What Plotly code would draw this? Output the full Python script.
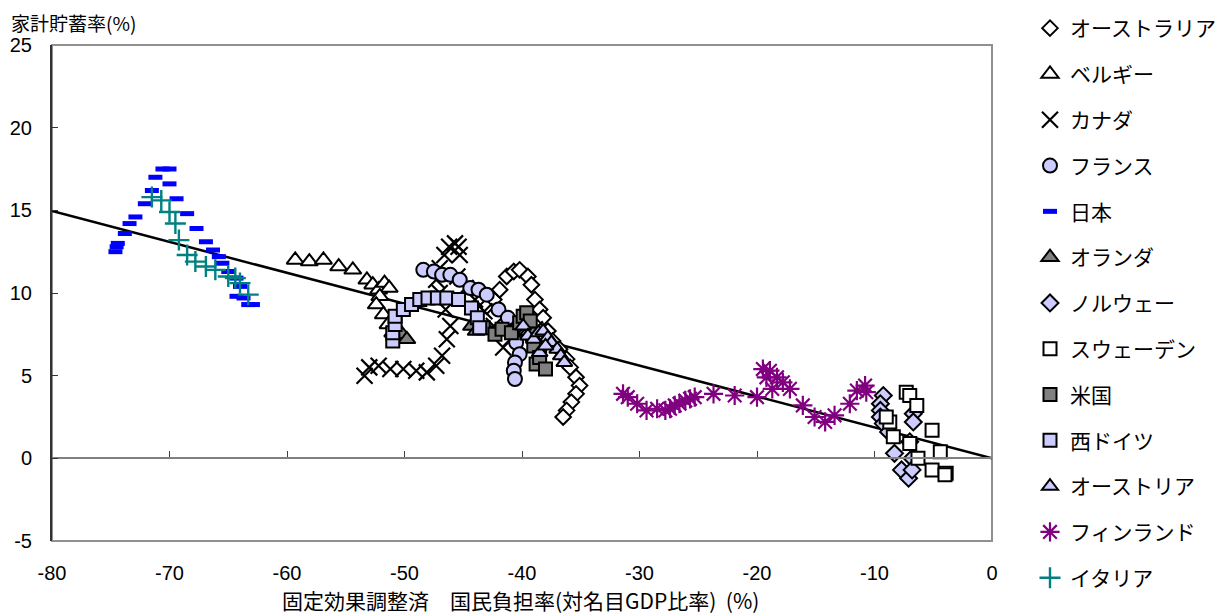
import plotly.graph_objects as go

# ---- data (x: 固定効果調整済 国民負担率, y: 家計貯蓄率) ----
aus_x = [-43.0, -42.4, -41.9, -41.3, -40.7, -40.2, -39.5, -39.2, -38.9, -38.5, -38.2, -37.8, -37.4, -36.8, -36.2, -35.9, -35.4, -35.1, -35.4, -35.8, -36.2, -36.5]
aus_y = [9.2, 9.6, 10.2, 11.0, 11.3, 11.4, 11.0, 10.5, 9.6, 9.0, 8.5, 7.7, 7.1, 6.6, 6.0, 5.5, 4.9, 4.4, 3.9, 3.4, 2.9, 2.5]

bel_x = [-59.3, -58.1, -56.9, -55.6, -54.4, -53.2, -52.7, -52.2, -51.7, -51.3, -52.1, -52.4, -51.8, -51.4, -51.0, -50.2]
bel_y = [12.0, 11.9, 12.0, 11.6, 11.4, 10.8, 10.5, 10.2, 10.6, 10.3, 9.8, 9.3, 8.7, 8.1, 7.6, 7.4]

can_x = [-53.4, -53.0, -52.2, -51.2, -50.1, -49.0, -48.1, -47.3, -46.8, -46.4, -46.1, -46.5, -47.0, -47.3, -47.0, -46.6, -46.2, -45.7, -45.4, -45.3, -45.5, -44.8, -44.0, -43.2, -42.4, -41.6, -41.0, -40.3, -39.6, -38.9]
can_y = [5.0, 5.5, 5.6, 5.4, 5.4, 5.3, 5.2, 5.6, 6.2, 7.2, 8.0, 9.0, 10.0, 10.8, 11.5, 12.3, 12.8, 13.0, 12.8, 12.3, 11.0, 10.3, 9.6, 8.9, 8.0, 6.7, 7.2, 7.6, 7.9, 7.8]

fra_x = [-48.4, -47.5, -46.8, -46.1, -45.3, -44.4, -43.7, -43.0, -42.0, -41.2, -40.5, -40.2, -40.6, -40.7, -40.6]
fra_y = [11.4, 11.3, 11.1, 11.1, 10.8, 10.3, 10.2, 9.9, 9.0, 8.5, 7.0, 6.3, 5.8, 5.3, 4.8]

jpn_x = [-74.6, -74.5, -74.4, -73.8, -73.4, -72.9, -72.1, -71.5, -71.2, -70.6, -70.0, -70.0, -69.4, -68.5, -67.7, -66.9, -66.3, -65.8, -65.5, -65.0, -64.3, -64.0, -64.3, -63.7, -63.3, -62.9]
jpn_y = [12.5, 12.8, 13.0, 13.6, 14.2, 14.6, 15.4, 16.2, 17.0, 17.5, 17.5, 16.6, 15.7, 14.8, 13.9, 13.1, 12.6, 12.2, 11.8, 11.3, 10.9, 10.4, 9.8, 9.7, 9.3, 9.3]

ned_x = [-50.2, -49.8, -44.3, -43.9, -40.3]
ned_y = [7.5, 7.2, 8.0, 7.7, 8.1]

nor_x = [-9.25, -9.5, -9.5, -9.5, -9.25, -8.8, -8.3, -6.7, -6.7, -7.0, -6.8, -7.7, -7.1, -6.8]
nor_y = [3.8, 3.3, 2.9, 2.5, 2.1, 1.6, 0.3, 2.7, 2.2, 1.0, 0.0, -0.7, -1.2, -0.7]

swe_x = [-7.3, -7.0, -6.4, -8.7, -8.4, -5.1, -4.4, -6.3, -5.1, -3.9, -4.0, -9.0, -7.0]
swe_y = [4.0, 3.8, 3.2, 2.2, 1.3, 1.7, 0.4, 0.0, -0.7, -0.9, -1.0, 2.5, 0.9]

usa_x = [-43.3, -42.3, -41.7, -40.9, -40.2, -39.9, -39.6, -39.3, -39.1, -39.0, -38.8, -38.5, -38.0]
usa_y = [7.9, 7.5, 7.8, 7.6, 8.2, 8.6, 8.8, 8.3, 7.5, 6.8, 5.7, 6.1, 5.4]

wger_x = [-51.0, -51.0, -50.8, -50.8, -50.1, -49.4, -48.7, -48.0, -47.2, -46.4, -45.4, -44.3, -43.8, -43.6]
wger_y = [7.1, 7.6, 8.1, 8.6, 9.0, 9.3, 9.6, 9.7, 9.7, 9.7, 9.6, 9.1, 8.5, 7.9]

aut_x = [-39.9, -39.5, -39.0, -38.6, -38.2, -37.8, -37.5, -37.0, -36.7, -36.4, -38.5, -38.0]
aut_y = [8.0, 7.4, 7.2, 7.6, 7.7, 7.3, 7.0, 6.6, 6.2, 5.8, 6.4, 6.8]

fin_x = [-31.4, -31.0, -30.2, -29.4, -28.5, -27.8, -27.4, -27.0, -26.6, -26.1, -25.7, -25.3, -23.7, -21.9, -20.0, -19.5, -18.9, -19.2, -18.3, -18.7, -17.8, -17.2, -16.1, -15.1, -14.2, -13.4, -12.1, -11.5, -10.8, -10.7]
fin_y = [3.9, 3.7, 3.3, 2.9, 3.0, 2.9, 3.0, 3.2, 3.3, 3.5, 3.6, 3.7, 3.9, 3.8, 3.7, 5.4, 5.3, 4.9, 4.9, 4.2, 4.6, 4.2, 3.2, 2.5, 2.2, 2.6, 3.3, 4.1, 4.4, 4.0]

ita_x = [-71.5, -70.7, -70.0, -69.5, -69.2, -68.5, -67.8, -66.9, -66.1, -65.0, -64.4, -64.0, -63.3]
ita_y = [15.8, 15.6, 14.9, 14.2, 13.2, 12.3, 11.9, 11.6, 11.4, 11.0, 10.9, 10.6, 9.9]

trend_x = [-80, 0]
trend_y = [14.96, 0]

x_ticks = [-80, -70, -60, -50, -40, -30, -20, -10, 0]
y_ticks = [-5, 0, 5, 10, 15, 20, 25]

# ---- layout geometry (pixels; page body adds an 8px offset) ----
W, H = 1224, 613
OFF = 8
PL, PR, PT, PB = 52 - OFF, 992 - OFF, 45 - OFF, 541 - OFF
xdom = [PL / W, PR / W]
ydom = [1 - PB / H, 1 - PT / H]
Y0, Y1 = -5, 25
zero_pos = ydom[0] + (0 - Y0) / (Y1 - Y0) * (ydom[1] - ydom[0])

fig = go.Figure()

fig.add_trace(go.Scatter(x=trend_x, y=trend_y, mode="lines",
                         line=dict(color="black", width=2.5), showlegend=False, hoverinfo="skip"))

LAV = "#ccccff"
GRAY = "#808080"
series = [
    ("オーストラリア", aus_x, aus_y, dict(symbol="diamond", size=12, color="white", line=dict(color="black", width=2))),
    ("ベルギー", bel_x, bel_y, dict(symbol="triangle-up", size=15, color="white", line=dict(color="black", width=2))),
    ("カナダ", can_x, can_y, dict(symbol="x-thin", size=16, color="black", line=dict(color="black", width=2.2))),
    ("フランス", fra_x, fra_y, dict(symbol="circle", size=14, color=LAV, line=dict(color="black", width=2))),
    ("日本", jpn_x, jpn_y, dict(symbol="line-ew", size=10, color="#0000ff", line=dict(color="#0000ff", width=5))),
    ("オランダ", ned_x, ned_y, dict(symbol="triangle-up", size=15, color=GRAY, line=dict(color="black", width=2))),
    ("ノルウェー", nor_x, nor_y, dict(symbol="diamond", size=13, color=LAV, line=dict(color="black", width=2))),
    ("スウェーデン", swe_x, swe_y, dict(symbol="square", size=13, color="white", line=dict(color="black", width=2))),
    ("米国", usa_x, usa_y, dict(symbol="square", size=13, color=GRAY, line=dict(color="black", width=2))),
    ("西ドイツ", wger_x, wger_y, dict(symbol="square", size=13, color=LAV, line=dict(color="black", width=2))),
    ("オーストリア", aut_x, aut_y, dict(symbol="triangle-up", size=14, color=LAV, line=dict(color="black", width=2))),
    ("フィンランド", fin_x, fin_y, dict(symbol="asterisk", size=16, color="#800080", line=dict(color="#800080", width=2.2))),
    ("イタリア", ita_x, ita_y, dict(symbol="cross-thin", size=15, color="#008080", line=dict(color="#008080", width=2.4))),
]
for i, (name, xs, ys, mk) in enumerate(series):
    fig.add_trace(go.Scatter(x=xs, y=ys, mode="markers", name=name, marker=mk,
                             legendgroup=f"g{i}"))

# helper axis drawn along y = 0 (ticks pointing up)
fig.add_trace(go.Scatter(x=[None], y=[None], xaxis="x2", showlegend=False, hoverinfo="skip"))

fig.update_layout(
    width=W, height=H,
    margin=dict(l=0, r=0, t=0, b=0, autoexpand=False),
    plot_bgcolor="white", paper_bgcolor="white",
    font=dict(family="Liberation Sans, Arial, Noto Sans CJK JP", size=20, color="black"),
    xaxis=dict(domain=xdom, range=[-80, 0], tickvals=x_ticks, ticktext=[str(v) for v in x_ticks],
               showgrid=False, zeroline=False, showline=False, ticks="",
               ticklabelstandoff=18, tickfont=dict(size=20)),
    xaxis2=dict(domain=xdom, range=[-80, 0], overlaying="x", anchor="free", position=zero_pos,
                tickvals=x_ticks, showticklabels=False, ticks="inside", ticklen=6,
                tickcolor="#404040", showline=True, linecolor="#808080", linewidth=2,
                showgrid=False, zeroline=False),
    yaxis=dict(domain=ydom, range=[Y0, Y1], tickvals=y_ticks, ticktext=[str(v) for v in y_ticks],
               showgrid=False, zeroline=False, showline=True, linecolor="#333333", linewidth=2,
               ticks="inside", ticklen=6, tickcolor="#333333", ticklabelstandoff=14,
               tickfont=dict(size=20)),
    legend=dict(x=(1030 - OFF) / W, y=1, xanchor="left", yanchor="top",
                font=dict(family="Noto Sans CJK JP", size=21), tracegroupgap=15.5,
                traceorder="grouped", itemwidth=30, bgcolor="rgba(0,0,0,0)"),
    shapes=[dict(type="rect", xref="x domain", yref="y domain", x0=0, x1=1, y0=0, y1=1,
                 line=dict(color="#909090", width=2), layer="below")],
    annotations=[
        dict(text="家計貯蓄率(%)", xref="paper", yref="paper", x=(10 - OFF) / W, y=1,
             xanchor="left", yanchor="top", showarrow=False, borderpad=0,
             font=dict(family="Noto Sans CJK JP", size=19)),
        dict(text="固定効果調整済　国民負担率(対名目GDP比率)  (%)", xref="paper", yref="paper",
             x=(520 - OFF) / W, y=1 - (600 - OFF) / H, xanchor="center", yanchor="middle", showarrow=False,
             font=dict(family="Noto Sans CJK JP", size=21)),
    ],
)

fig.write_html("out.html")
